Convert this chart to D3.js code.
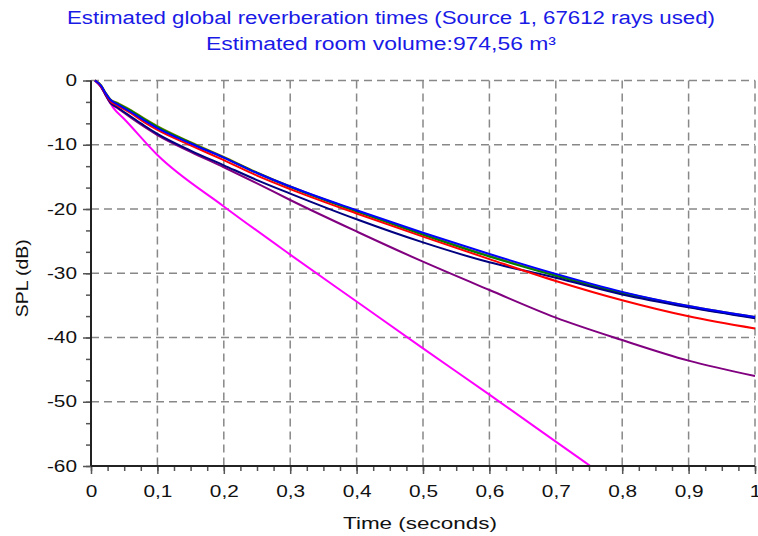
<!DOCTYPE html>
<html>
<head>
<meta charset="utf-8">
<script src="https://cdn.jsdelivr.net/npm/d3@7"></script>
<style>
  html, body { margin: 0; padding: 0; background: #fff; }
  svg { display: block; }
  text { font-family: "Liberation Sans", Arial, sans-serif; }
</style>
</head>
<body>
<svg id="chart"></svg>
<script>
// energy decay per octave band, sampled times (s) and SPL (dB)
const times = [0.006, 0.015, 0.022, 0.029, 0.04, 0.06, 0.08, 0.1, 0.15, 0.2, 0.25, 0.3, 0.4, 0.5, 0.6, 0.7, 0.8, 0.9, 1.0];
const olive  = [0, -0.7, -1.9, -2.9, -3.5, -4.6, -5.9, -7.1, -9.6, -11.9, -14.3, -16.5, -20.3, -23.9, -27.3, -30.3, -33.0, -35.1, -36.8];
const green  = [0, -0.8, -2.0, -3.0, -3.6, -4.7, -6.0, -7.2, -9.7, -12.0, -14.4, -16.6, -20.4, -24.0, -27.4, -30.4, -33.1, -35.2, -36.9];
const blue   = [0, -0.8, -2.0, -3.0, -3.7, -4.9, -6.2, -7.4, -9.8, -12.0, -14.4, -16.5, -20.2, -23.7, -27.0, -30.1, -32.9, -35.1, -36.8];
const red    = [0, -0.9, -2.1, -3.2, -3.9, -5.1, -6.5, -7.7, -10.1, -12.4, -14.8, -16.9, -20.7, -24.3, -27.8, -31.2, -34.2, -36.7, -38.6];
const navy   = [0, -0.9, -2.2, -3.4, -4.2, -5.6, -7.0, -8.3, -10.9, -13.2, -15.5, -17.6, -21.6, -25.2, -28.3, -30.7, -33.3, -35.3, -37.0];
const purple = [0, -1.0, -2.3, -3.5, -4.3, -5.8, -7.2, -8.5, -11.1, -13.5, -16.0, -18.6, -23.5, -28.2, -32.6, -36.9, -40.4, -43.6, -46.0];
const magentaTimes = [0.006, 0.015, 0.026, 0.034, 0.05, 0.1, 0.2, 0.3, 0.4, 0.5, 0.6, 0.7, 0.752];
const magenta = [0, -1.0, -3.0, -4.3, -6.0, -11.6, -19.6, -27.1, -34.4, -41.7, -48.9, -56.2, -60];

const xTicks = [0, 0.1, 0.2, 0.3, 0.4, 0.5, 0.6, 0.7, 0.8, 0.9, 1];
const yTicks = [0, -10, -20, -30, -40, -50, -60];
const title1 = "Estimated global reverberation times (Source 1, 67612 rays used)";
const title2 = "Estimated room volume:974,56 m³";

const W = 758, H = 536;
const margin = { top: 80, right: 3, bottom: 70, left: 91 };

const svg = d3.select("#chart").attr("width", W).attr("height", H);
svg.append("rect").attr("width", W).attr("height", H).attr("fill", "#fff");

const x = d3.scaleLinear().domain([0, 1]).range([margin.left, W - margin.right]);
const y = d3.scaleLinear().domain([0, -60]).range([margin.top + 0.5, H - margin.bottom]);

const fmt = d => String(d).replace(".", ",");

// the original uses a wide bitmap font, so stretch text horizontally
function widen(sel, factor) {
    sel.each(function () {
        const w = this.getComputedTextLength();
        d3.select(this).attr("textLength", w * factor).attr("lengthAdjust", "spacingAndGlyphs");
    });
}

// grid
const grid = svg.append("g")
    .attr("stroke", "#888")
    .attr("stroke-width", 1.5)
    .attr("stroke-dasharray", "8,5");
grid.selectAll(".vg").data(xTicks.slice(1)).enter().append("line")
    .attr("x1", d => x(d)).attr("x2", d => x(d))
    .attr("y1", y(0)).attr("y2", y(-60));
grid.selectAll(".hg").data(yTicks.slice(0, -1)).enter().append("line")
    .attr("x1", x(0)).attr("x2", x(1))
    .attr("y1", d => y(d)).attr("y2", d => y(d));

// curves
const line = d3.line().curve(d3.curveMonotoneX);
const series = [
    [times, olive, "#808000"],
    [times, green, "#008000"],
    [magentaTimes, magenta, "#ff00ff"],
    [times, purple, "#800080"],
    [times, navy, "#000080"],
    [times, red, "#ff0000"],
    [times, blue, "#0000ff"]
];
svg.append("g").selectAll("path").data(series).enter().append("path")
    .attr("fill", "none")
    .attr("stroke", d => d[2])
    .attr("stroke-width", 2)
    .attr("d", d => line(d[0].map((t, i) => [x(t), y(d[1][i])])));

// axes
const xAxis = svg.append("g")
    .attr("transform", `translate(0,${y(-60)})`)
    .call(d3.axisBottom(x).tickValues(d3.range(0, 1.0001, 0.025)).tickSize(5).tickFormat(""));
xAxis.select(".domain").remove();
const xMajor = svg.append("g")
    .attr("transform", `translate(0,${y(-60)})`)
    .call(d3.axisBottom(x).tickValues(xTicks).tickSize(8).tickPadding(12).tickFormat(fmt));
xMajor.select(".domain").remove();

const yAxis = svg.append("g")
    .attr("transform", `translate(${x(0)},0)`)
    .call(d3.axisLeft(y).tickValues(d3.range(0, -60.001, -10 / 3)).tickSize(5).tickFormat(""));
yAxis.select(".domain").remove();
const yMajor = svg.append("g")
    .attr("transform", `translate(${x(0)},0)`)
    .call(d3.axisLeft(y).tickValues(yTicks).tickSize(8).tickPadding(6).tickFormat(d => d));
yMajor.select(".domain").remove();

svg.selectAll(".tick line").attr("stroke", "#555").attr("stroke-width", 1.5);
svg.selectAll(".tick text").attr("font-size", 16).attr("fill", "#111")
    .attr("font-family", "'Liberation Sans', Arial, sans-serif");
widen(svg.selectAll(".tick text"), 1.3);

svg.append("line").attr("x1", x(0)).attr("x2", x(0)).attr("y1", y(0)).attr("y2", y(-60))
    .attr("stroke", "#222").attr("stroke-width", 2);
svg.append("line").attr("x1", x(0)).attr("x2", x(1)).attr("y1", y(-60)).attr("y2", y(-60))
    .attr("stroke", "#222").attr("stroke-width", 2);

// labels
svg.append("text")
    .attr("x", 420).attr("y", 529)
    .attr("text-anchor", "middle").attr("font-size", 17).attr("fill", "#111")
    .attr("textLength", 154).attr("lengthAdjust", "spacingAndGlyphs")
    .text("Time (seconds)");
svg.append("text")
    .attr("transform", `translate(28,${(y(0) + y(-60)) / 2 + 5}) rotate(-90)`)
    .attr("text-anchor", "middle").attr("font-size", 17).attr("fill", "#111")
    .attr("textLength", 78).attr("lengthAdjust", "spacingAndGlyphs")
    .text("SPL (dB)");

svg.append("text")
    .attr("x", 391).attr("y", 24)
    .attr("text-anchor", "middle").attr("font-size", 18).attr("fill", "#1a1ae6")
    .attr("textLength", 648).attr("lengthAdjust", "spacingAndGlyphs")
    .text(title1);
svg.append("text")
    .attr("x", 381).attr("y", 50)
    .attr("text-anchor", "middle").attr("font-size", 18).attr("fill", "#1a1ae6")
    .attr("textLength", 350).attr("lengthAdjust", "spacingAndGlyphs")
    .text(title2);
</script>
</body>
</html>
